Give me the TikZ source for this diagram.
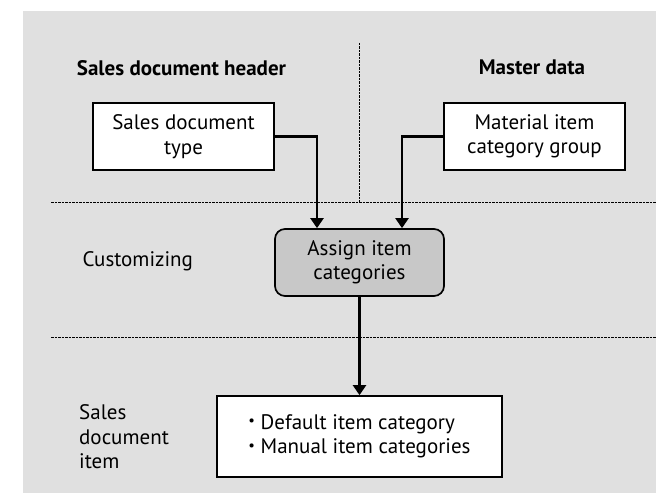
\documentclass[tikz,border=0pt]{standalone}
\usepackage{fontspec}
\setmainfont{PT Sans}
\usetikzlibrary{arrows.meta}
\definecolor{panel}{HTML}{E0E0E0}
\definecolor{stepfill}{HTML}{C8C8C8}
\newcommand{\smallbullet}{\raisebox{0.32ex}{\scalebox{0.7}{\textbullet}}}
\begin{document}
\begin{tikzpicture}[x=1pt,y=-1pt,
  font=\fontsize{21}{24.5}\selectfont,
  box/.style={draw,line width=1.7pt,fill=white,align=center,inner sep=0pt},
  stepbox/.style={box,fill=stepfill,rounded corners=10pt},
  flow/.style={line width=2.3pt,-{Triangle[length=10pt,width=13pt]}},
  divider/.style={line width=1pt,dash pattern=on 2.5pt off 1pt},
  head/.style={font=\fontsize{21}{24.5}\selectfont\bfseries,anchor=base},
  lane/.style={align=left}]
  % frame and page
  \useasboundingbox (0,0) rectangle (656,502);
  \fill[panel] (23,11) rectangle (656,493);

  % lane dividers
  \coordinate (vtop) at (359,43);
  \coordinate (vbot) at (359,203);
  \coordinate (h1l) at (51,203);
  \coordinate (h1r) at (656,203);
  \coordinate (h2l) at (51,338);
  \coordinate (h2r) at (656,338);
  \draw[divider] (vtop) -- (vbot);
  \draw[divider] (h1l) -- (h1r);
  \draw[divider] (h2l) -- (h2r);

  % column headings
  \node[head] (hdr) at (181.5,76) {Sales document header};
  \node[head] (mst) at (532,75) {Master data};

  % lane labels
  \node[lane,anchor=base west] (cust) at (79,267) {Customizing};
  \node[lane,anchor=west,inner sep=0pt] (item) at (79,437) {Sales\\document\\item};

  % boxes
  \node[box,minimum width=181pt,minimum height=67pt] (sdt) at (183.5,136.5)
    {Sales document\\type};
  \node[box,minimum width=181pt,minimum height=67pt] (mig) at (534.5,136.5)
    {Material item\\category group};
  \node[stepbox,minimum width=169pt,minimum height=67pt] (asg) at (359.5,262.5)
    {Assign item\\categories};
  \node[box,minimum width=285pt,minimum height=81pt] (res) at (359.5,436.5)
    {\begin{tabular}{@{}l@{}}\smallbullet\ Default item category\\
     \smallbullet\ Manual item categories\end{tabular}};

  % connectors
  \draw[flow] (sdt.east) -| ([xshift=-42.5pt]asg.north);
  \draw[flow] (mig.west) -| ([xshift=42.5pt]asg.north);
  \draw[flow] (asg.south) -- (res.north);
\end{tikzpicture}
\end{document}
